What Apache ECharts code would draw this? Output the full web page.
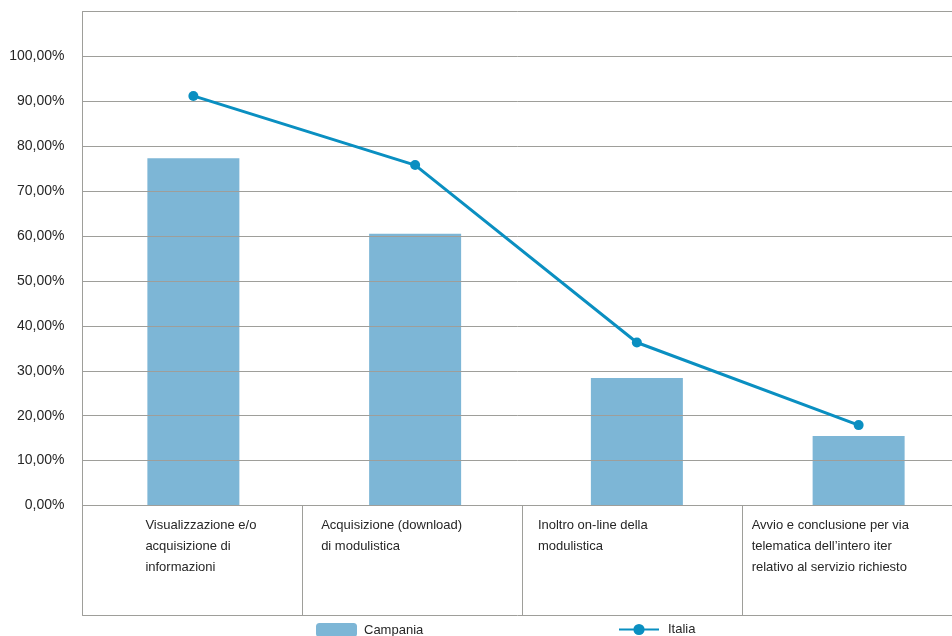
<!DOCTYPE html>
<html>
<head>
<meta charset="utf-8">
<script src="https://cdn.jsdelivr.net/npm/echarts@6/dist/echarts.min.js"></script>
<style>
  html, body { margin: 0; padding: 0; background: #ffffff; }
  #chart { width: 952px; height: 636px; }
</style>
</head>
<body>
<div id="chart"></div>
<script>
// Service categories (x axis)
const categories = [
  'Visualizzazione e/o\nacquisizione di\ninformazioni',
  'Acquisizione (download)\ndi modulistica',
  'Inoltro on-line della\nmodulistica',
  'Avvio e conclusione per via\ntelematica dell\u2019intero iter\nrelativo al servizio richiesto'
];

// Share of municipalities offering each service, in percent
const campania = [77.3, 60.5, 28.4, 15.5];
const italia = [91.2, 75.8, 36.3, 17.9];

// Value axis settings
const yMin = 0;
const yMax = 110;
const yStep = 10;
const yLabelTop = 100;

// Horizontal shift of each category label block from its cell centre
const labelShift = [-47, -91, -94, -100];

const FONT = "'Liberation Sans', Arial, sans-serif";
const TEXT = '#262626';
const RULE = '#9e9e9a';

const chart = echarts.init(document.getElementById('chart'), null, { renderer: 'canvas' });

chart.setOption({
  animation: false,
  backgroundColor: '#ffffff',
  textStyle: { fontFamily: FONT },
  grid: [
    // plotting area
    { left: 82.5, top: 11.5, width: 887, height: 494, containLabel: false, outerBoundsMode: 'none' },
    // label table under the plot
    { left: 82.5, top: 505.5, width: 879, height: 110, containLabel: false, outerBoundsMode: 'none' }
  ],
  legend: [
    {
      data: ['Campania'],
      left: 316, top: 623, padding: 0,
      itemWidth: 41, itemHeight: 14,
      textStyle: { fontFamily: FONT, fontSize: 13, color: TEXT, padding: [0, 0, 0, 2] }
    },
    {
      data: ['Italia'],
      left: 618, top: 623, padding: 0,
      itemWidth: 40, itemHeight: 14,
      textStyle: { fontFamily: FONT, fontSize: 13, color: TEXT, padding: [0, 0, 0, 4] }
    }
  ],
  xAxis: [
    {
      type: 'category',
      gridIndex: 0,
      data: categories,
      boundaryGap: true,
      axisLine: { show: true, lineStyle: { color: RULE, width: 1 } },
      axisTick: { show: false },
      axisLabel: { show: false },
      splitLine: { show: false }
    },
    {
      // cell dividers and category names
      type: 'category',
      gridIndex: 1,
      position: 'top',
      data: categories.map((c, i) => ({
        value: c,
        textStyle: { align: 'left', verticalAlign: 'top', padding: [0, 0, 0, labelShift[i]] }
      })),
      boundaryGap: true,
      axisLine: { show: false },
      axisTick: { show: false },
      splitLine: { show: true, interval: 0, lineStyle: { color: RULE, width: 1 } },
      axisLabel: {
        inside: true,
        interval: 0,
        margin: 9,
        fontFamily: FONT,
        fontSize: 13,
        lineHeight: 21,
        color: TEXT
      }
    },
    {
      // lower edge of the table
      type: 'category',
      gridIndex: 1,
      position: 'bottom',
      data: categories,
      axisLine: { show: true, lineStyle: { color: RULE, width: 1 } },
      axisTick: { show: false },
      axisLabel: { show: false },
      splitLine: { show: false }
    }
  ],
  yAxis: [
    {
      type: 'value',
      gridIndex: 0,
      min: yMin,
      max: yMax,
      interval: yStep,
      axisLine: { show: true, lineStyle: { color: RULE, width: 1 } },
      axisTick: { show: false },
      splitLine: { show: true, lineStyle: { color: RULE, width: 1 } },
      axisLabel: {
        margin: 18,
        fontFamily: FONT,
        fontSize: 14,
        color: TEXT,
        formatter: v => (v > yLabelTop ? '' : v.toFixed(2).replace('.', ',') + '%')
      }
    },
    {
      type: 'value',
      gridIndex: 1,
      show: false
    }
  ],
  series: [
    {
      name: 'Campania',
      type: 'bar',
      xAxisIndex: 0,
      yAxisIndex: 0,
      data: campania,
      barWidth: 92,
      z: -1,
      itemStyle: { color: '#7db6d6' }
    },
    {
      name: 'Italia',
      type: 'line',
      xAxisIndex: 0,
      yAxisIndex: 0,
      data: italia,
      symbol: 'circle',
      symbolSize: 10,
      lineStyle: { width: 3, color: '#0a8fc1' },
      itemStyle: { color: '#0a8fc1' }
    }
  ]
});
</script>
</body>
</html>
